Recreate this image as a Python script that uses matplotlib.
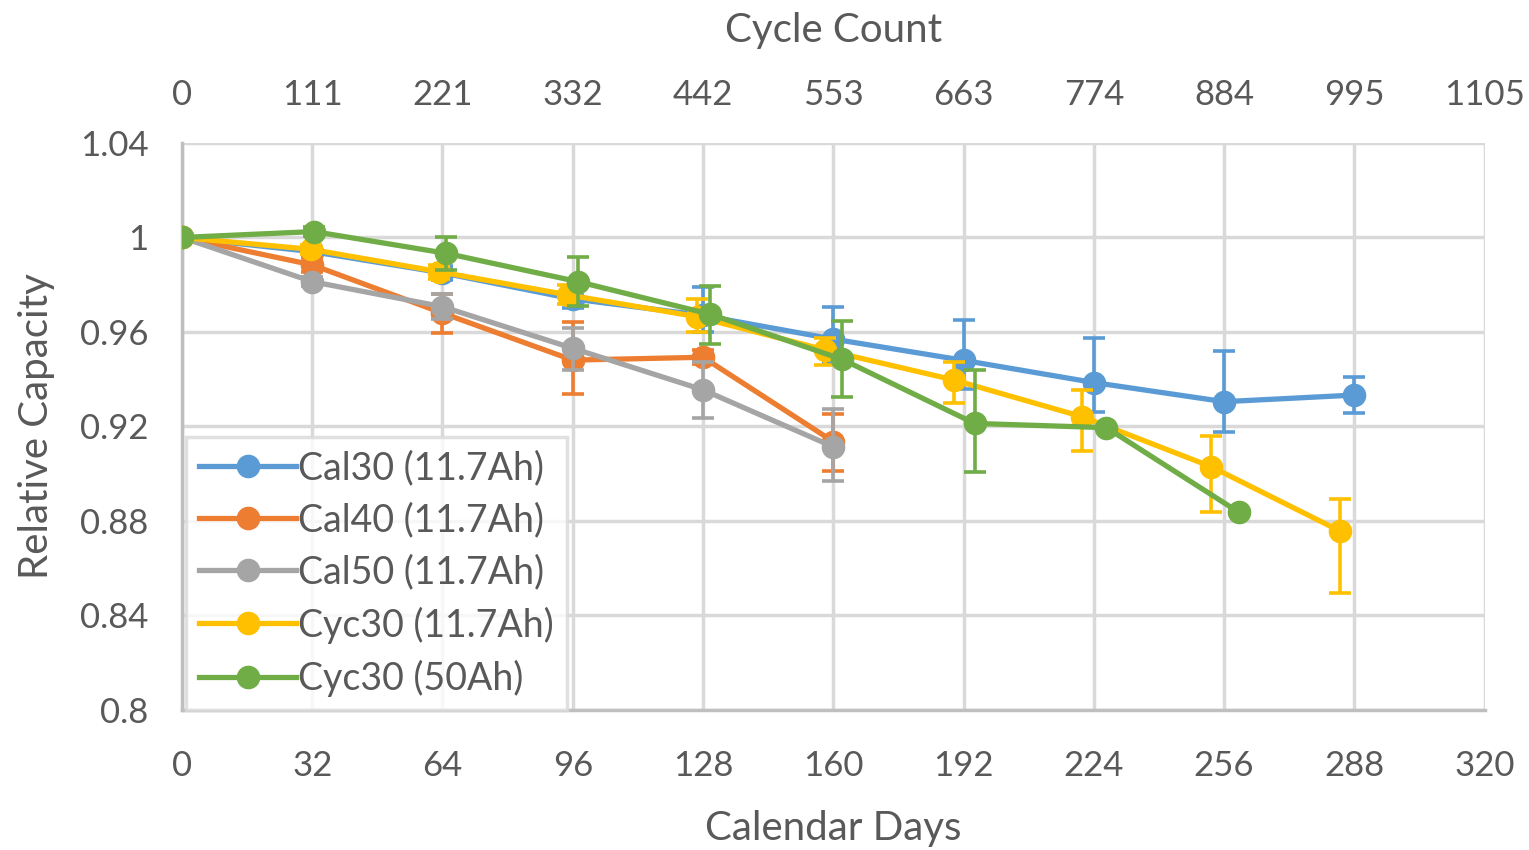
import matplotlib.pyplot as plt
from matplotlib.lines import Line2D
import numpy as np

plt.rcParams['font.family'] = ['Lato', 'DejaVu Sans']

# data
series_names = ['Cal30 (11.7Ah)', 'Cal40 (11.7Ah)', 'Cal50 (11.7Ah)',
                'Cyc30 (11.7Ah)', 'Cyc30 (50Ah)']
series_colors = ['#5B9BD5', '#ED7D31', '#A5A5A5', '#FFC000', '#70AD47']

cal30_days = [0, 32, 64, 96, 128, 160, 192, 224, 256, 288]
cal30_cap = [1.0, 0.994, 0.985, 0.974, 0.967, 0.957, 0.948, 0.9386, 0.9305, 0.9333]
cal30_lo = [0, 0.002, 0.003, 0.004, 0.007, 0.010, 0.012, 0.0123, 0.0128, 0.0075]
cal30_hi = [0, 0.002, 0.003, 0.004, 0.012, 0.0134, 0.017, 0.019, 0.0215, 0.0077]

cal40_days = [0, 32, 64, 96, 128, 160]
cal40_cap = [1.0, 0.9884, 0.968, 0.9481, 0.9493, 0.9136]
cal40_lo = [0, 0.003, 0.0086, 0.0145, 0.003, 0.0124]
cal40_hi = [0, 0.003, 0.008, 0.0163, 0.003, 0.0117]

cal50_days = [0, 32, 64, 96, 128, 160]
cal50_cap = [1.0, 0.9813, 0.9707, 0.9531, 0.9355, 0.9114]
cal50_lo = [0, 0.002, 0.0053, 0.0092, 0.0121, 0.0145]
cal50_hi = [0, 0.002, 0.0053, 0.0085, 0.012, 0.0159]

cyc11_days = [0, 31.6, 63.2, 94.8, 126.4, 158, 189.6, 221.2, 252.8, 284.4]
cyc11_cap = [1.0, 0.995, 0.9855, 0.9757, 0.9665, 0.9524, 0.9397, 0.9241, 0.903, 0.8758]
cyc11_lo = [0, 0.002, 0.003, 0.004, 0.0065, 0.0064, 0.0099, 0.0145, 0.019, 0.0261]
cyc11_hi = [0, 0.002, 0.003, 0.004, 0.0075, 0.0052, 0.0077, 0.0114, 0.013, 0.0135]

cyc50_days = [0, 32.4, 64.9, 97.3, 129.8, 162.2, 194.7, 227.1, 259.6]
cyc50_cap = [1.0, 1.0025, 0.9933, 0.9813, 0.9675, 0.9484, 0.9213, 0.9195, 0.8837]
cyc50_lo = [0, 0.002, 0.007, 0.0103, 0.0125, 0.0158, 0.0207, 0, 0]
cyc50_hi = [0, 0.002, 0.007, 0.0103, 0.0121, 0.0163, 0.0226, 0, 0]

day_ticks = [0, 32, 64, 96, 128, 160, 192, 224, 256, 288, 320]
cycle_labels = ['0', '111', '221', '332', '442', '553', '663', '774', '884', '995', '1105']
cap_ticks = [0.8, 0.84, 0.88, 0.92, 0.96, 1.0, 1.04]
cap_labels = ['0.8', '0.84', '0.88', '0.92', '0.96', '1', '1.04']

txt = '#595959'
grid = '#D9D9D9'

fig = plt.figure(figsize=(15.29, 8.5), dpi=100)
ax = fig.add_axes([0.119, 0.1647, 0.852, 0.6671])

all_days = [cal30_days, cal40_days, cal50_days, cyc11_days, cyc50_days]
all_cap = [cal30_cap, cal40_cap, cal50_cap, cyc11_cap, cyc50_cap]
all_lo = [cal30_lo, cal40_lo, cal50_lo, cyc11_lo, cyc50_lo]
all_hi = [cal30_hi, cal40_hi, cal50_hi, cyc11_hi, cyc50_hi]

handles = []
for i in range(5):
    ax.errorbar(all_days[i], all_cap[i],
                yerr=[all_lo[i], all_hi[i]],
                color=series_colors[i], lw=3.8, marker='o', ms=16,
                elinewidth=2.6, capsize=8, capthick=2.6, zorder=3 + i)
    handles.append(Line2D([], [], color=series_colors[i], lw=3.8,
                          marker='o', ms=16, label=series_names[i]))

ax.set_xlim(0, 320)
ax.set_ylim(0.8, 1.04)
ax.set_xticks(day_ticks)
ax.set_yticks(cap_ticks)
ax.set_yticklabels(cap_labels)
ax.grid(True, color=grid, lw=2.5)
ax.set_axisbelow(True)
for s in ['top', 'right']:
    ax.spines[s].set_visible(False)
for s in ['left', 'bottom']:
    ax.spines[s].set_color('#BFBFBF')
    ax.spines[s].set_linewidth(2.5)
ax.tick_params(length=0, labelsize=25, labelcolor=txt)
ax.tick_params(axis='x', pad=29)
ax.tick_params(axis='y', pad=24)
ax.set_xlabel('Calendar Days', fontsize=29, color=txt, labelpad=20)
ax.set_ylabel('Relative Capacity', fontsize=29, color=txt, labelpad=18)

top = ax.twiny()
top.set_xlim(0, 1105)
top.set_xticks(np.linspace(0, 1105, 11))
top.set_xticklabels(cycle_labels)
for s in top.spines.values():
    s.set_visible(False)
top.tick_params(length=0, labelsize=25, labelcolor=txt, pad=23)
top.set_xlabel('Cycle Count', fontsize=29, color=txt, labelpad=27)

leg = ax.legend(handles=handles, loc='lower left', bbox_to_anchor=(0.003, 0.0),
                fontsize=27, frameon=True, fancybox=False, edgecolor='#D9D9D9',
                handlelength=2.6, handletextpad=0.05, labelspacing=0.43,
                borderpad=0.35, borderaxespad=0.0)
leg.get_frame().set_linewidth(2.5)
for t in leg.get_texts():
    t.set_color(txt)

fig.savefig('out.png', dpi=100)
